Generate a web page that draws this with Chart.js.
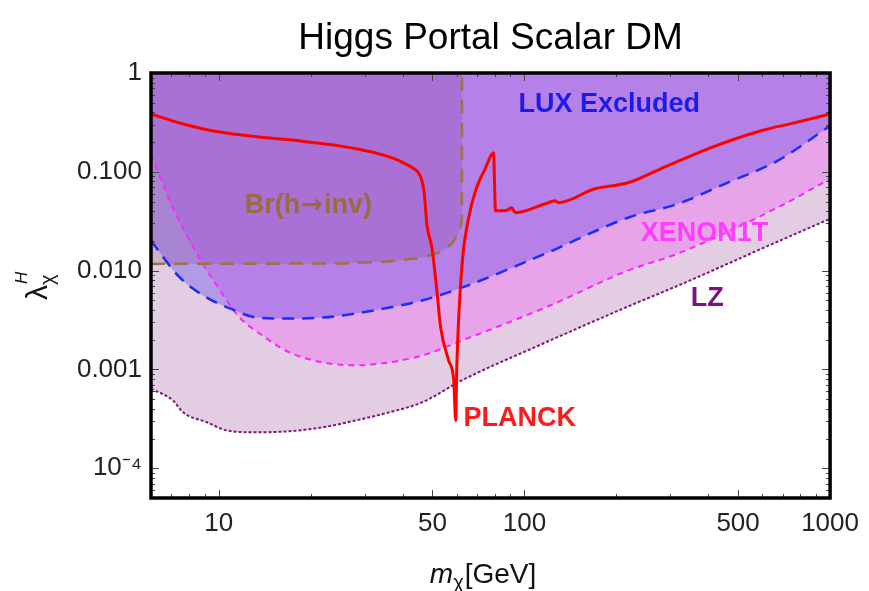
<!DOCTYPE html>
<html>
<head>
<meta charset="utf-8">
<title>Higgs Portal Scalar DM</title>
<script src="https://cdn.jsdelivr.net/npm/chart.js@4.4.0/dist/chart.umd.min.js"></script>
<style>
  html, body { margin: 0; padding: 0; background: #fff; }
</style>
</head>
<body>
<canvas id="myChart" width="869" height="591"></canvas>
<script>
// curvas (masa en GeV, acoplamiento lambda)
const planckMass = [6, 7, 8.05, 9.5, 11.7, 14, 17, 20.5, 24.8, 29, 33.4, 37.5, 40.9, 43.3, 45.2, 46.9, 48, 49.8, 51.7, 53.2, 56.5, 58.7, 59.6, 60.0, 62.4, 65.7, 69.2, 74.6, 79.2, 80.4, 86.7, 90.7, 93.5, 117, 126, 129, 170, 218, 279, 406, 591, 763, 1000];
const planckLambda = [0.385, 0.33, 0.292, 0.26, 0.237, 0.222, 0.211, 0.197, 0.183, 0.168, 0.152, 0.136, 0.120, 0.108, 0.0955, 0.0643, 0.0285, 0.0171, 0.00628, 0.00265, 0.00123, 0.000775, 0.000305, 0.000912, 0.0107, 0.0343, 0.0643, 0.1096, 0.1556, 0.0404, 0.0404, 0.0433, 0.0386, 0.0475, 0.0509, 0.0487, 0.0673, 0.0774, 0.107, 0.175, 0.259, 0.313, 0.385];

const luxMass = [6, 7.46, 9.14, 11.1, 13.3, 17, 21.8, 28.1, 36.1, 46.2, 62.4, 117, 218, 318, 461, 672, 1000];
const luxLambda = [0.0201, 0.00849, 0.00533, 0.00404, 0.00335, 0.00327, 0.00335, 0.00368, 0.00423, 0.00498, 0.00673, 0.01486, 0.0343, 0.0475, 0.0774, 0.129, 0.292];

const xenonMass = [6, 7.08, 8.47, 10.1, 11.7, 13.6, 17, 21.8, 28.1, 36.1, 46.2, 62.4, 117, 218, 318, 672, 1000];
const xenonLambda = [0.15, 0.0433, 0.0149, 0.00628, 0.00335, 0.00231, 0.00149, 0.00118, 0.0011, 0.00118, 0.00138, 0.00196, 0.00423, 0.0100, 0.0149, 0.0433, 0.085];

const lzMass = [6, 7.08, 7.64, 9.14, 10.6, 13.3, 17, 21.8, 28.1, 36.1, 46.2, 62.4, 117, 218, 318, 672, 1000];
const lzLambda = [0.00064, 0.000486, 0.000368, 0.000292, 0.000242, 0.000231, 0.000237, 0.000259, 0.000305, 0.000368, 0.000464, 0.000775, 0.00187, 0.00433, 0.00705, 0.0196, 0.0335];

const brMass = [6, 25, 36, 46, 52.5, 57.8, 61, 62.4, 62.5];
const brLambda = [0.0117, 0.0118, 0.0124, 0.0135, 0.0152, 0.0187, 0.024, 0.032, 1];

// ticks
const xMajorTicks = [10, 50, 100, 500, 1000];
const xTickLabels = ['10', '50', '100', '500', '1000'];
const xMinorTicks = [7, 8, 9, 20, 30, 40, 60, 70, 80, 90, 200, 300, 400, 600, 700, 800, 900];
const yMajorTicks = [0.0001, 0.001, 0.01, 0.1, 1];
const yTickLabels = ['10\u207B\u2074', '0.001', '0.010', '0.100', '1'];
const yMinorTicks = [6e-5, 7e-5, 8e-5, 9e-5, 2e-4, 3e-4, 4e-4, 5e-4, 6e-4, 7e-4, 8e-4, 9e-4,
  0.002, 0.003, 0.004, 0.005, 0.006, 0.007, 0.008, 0.009,
  0.02, 0.03, 0.04, 0.05, 0.06, 0.07, 0.08, 0.09,
  0.2, 0.3, 0.4, 0.5, 0.6, 0.7, 0.8, 0.9];

// etiquetas dentro del grafico: texto, masa, lambda, color
const regionLabels = ['LUX Excluded', 'Br(h\u2192inv)', 'XENON1T', 'LZ', 'PLANCK'];
const regionLabelMass = [95.6, 12.15, 240, 350, 63.2];
const regionLabelLambda = [0.475, 0.0454, 0.0237, 0.00521, 0.00032];
const regionLabelColors = ['#1c1ce8', '#9a6a40', '#ff3cff', '#7c137c', '#ff1a1a'];

Chart.defaults.font.family = "'Liberation Sans', Arial, Helvetica, sans-serif";

function toPoints(xs, ys) {
    return xs.map((x, i) => ({ x: x, y: ys[i] }));
}

const plotArea = { left: 151, right: 832, top: 73, bottom: 498 };

// dibuja texto; la flecha va con DejaVu porque en Liberation queda muy chica
function drawLabel(ctx, text, x, y) {
    const parts = text.split('\u2192');
    let px = x;
    parts.forEach((p, i) => {
        ctx.font = "bold 27px 'Liberation Sans', Arial, sans-serif";
        ctx.fillText(p, px, y);
        px += ctx.measureText(p).width;
        if (i < parts.length - 1) {
            ctx.font = "bold 26px 'DejaVu Sans', sans-serif";
            ctx.fillText('\u2192', px + 1, y + 1);
            px += ctx.measureText('\u2192').width + 2;
        }
    });
}

const textPlugin = {
    id: 'textos',
    afterDraw(chart) {
        const ctx = chart.ctx;
        const a = chart.chartArea;
        const sx = chart.scales.x;
        const sy = chart.scales.y;
        ctx.save();

        // ticks menores y mayores hacia dentro
        ctx.strokeStyle = '#444';
        ctx.lineWidth = 1;
        function tick(x1, y1, x2, y2) {
            ctx.beginPath(); ctx.moveTo(x1, y1); ctx.lineTo(x2, y2); ctx.stroke();
        }
        xMajorTicks.forEach(v => {
            const px = Math.round(sx.getPixelForValue(v)) + 0.5;
            tick(px, a.bottom, px, a.bottom - 8);
            tick(px, a.top, px, a.top + 8);
        });
        xMinorTicks.forEach(v => {
            const px = Math.round(sx.getPixelForValue(v)) + 0.5;
            tick(px, a.bottom, px, a.bottom - 4);
            tick(px, a.top, px, a.top + 4);
        });
        yMajorTicks.forEach(v => {
            const py = Math.round(sy.getPixelForValue(v)) + 0.5;
            tick(a.left, py, a.left + 8, py);
            tick(a.right, py, a.right - 8, py);
        });
        yMinorTicks.forEach(v => {
            const py = Math.round(sy.getPixelForValue(v)) + 0.5;
            tick(a.left, py, a.left + 4, py);
            tick(a.right, py, a.right - 4, py);
        });

        // marco
        ctx.strokeStyle = '#000';
        ctx.lineWidth = 3.5;
        ctx.strokeRect(a.left, a.top, a.right - a.left, a.bottom - a.top);

        // titulo
        ctx.fillStyle = '#000';
        ctx.font = "37px 'Liberation Sans', Arial, sans-serif";
        ctx.textAlign = 'center';
        ctx.textBaseline = 'alphabetic';
        ctx.fillText('Higgs Portal Scalar DM', (a.left + a.right) / 2, 49);

        // etiquetas de regiones
        ctx.textAlign = 'left';
        ctx.textBaseline = 'middle';
        regionLabels.forEach((t, i) => {
            ctx.fillStyle = regionLabelColors[i];
            drawLabel(ctx, t, sx.getPixelForValue(regionLabelMass[i]), sy.getPixelForValue(regionLabelLambda[i]));
        });

        // titulo eje x: m_chi [GeV]
        ctx.fillStyle = '#111';
        ctx.textBaseline = 'alphabetic';
        const fMain = "28px 'Liberation Sans', Arial, sans-serif";
        const fItal = "italic 28px 'Liberation Sans', Arial, sans-serif";
        const fSub = "20px 'Liberation Sans', Arial, sans-serif";
        ctx.font = fItal; const wM = ctx.measureText('m').width;
        ctx.font = fSub; const wC = ctx.measureText('\u03C7').width;
        ctx.font = fMain; const wG = ctx.measureText('[GeV]').width;
        let x0 = (a.left + a.right) / 2 - 8 - (wM + wC + wG) / 2;
        const yBase = 583;
        ctx.font = fItal; ctx.fillText('m', x0, yBase);
        ctx.font = fSub; ctx.fillText('\u03C7', x0 + wM, yBase + 6);
        ctx.font = fMain; ctx.fillText('[GeV]', x0 + wM + wC + 1, yBase);

        // titulo eje y: lambda_chi^H (rotado)
        ctx.translate(47, 300);
        ctx.rotate(-Math.PI / 2);
        ctx.font = "30px 'Liberation Sans', Arial, sans-serif";
        ctx.fillText('\u03BB', 0, 0);
        const wL = ctx.measureText('\u03BB').width;
        ctx.font = fSub;
        ctx.fillText('\u03C7', wL, 7);
        ctx.font = "italic 17px 'Liberation Sans', Arial, sans-serif";
        ctx.fillText('H', wL + 1, -20);

        ctx.restore();
    }
};

const config = {
    type: 'scatter',
    data: {
        datasets: [
            {
                label: 'PLANCK',
                data: toPoints(planckMass, planckLambda),
                showLine: true,
                borderColor: '#ff0000',
                borderWidth: 3,
                pointRadius: 0,
                cubicInterpolationMode: 'monotone',
                fill: false
            },
            {
                label: 'Br(h->inv)',
                data: toPoints(brMass, brLambda),
                showLine: true,
                borderColor: '#a0723f',
                borderWidth: 2.5,
                borderDash: [14, 9],
                backgroundColor: 'rgba(115, 40, 130, 0.18)',
                pointRadius: 0,
                fill: 'end'
            },
            {
                label: 'LUX',
                data: toPoints(luxMass, luxLambda),
                showLine: true,
                borderColor: '#1a2cff',
                borderWidth: 2.5,
                borderDash: [12, 8],
                backgroundColor: 'rgba(104, 78, 235, 0.4)',
                pointRadius: 0,
                cubicInterpolationMode: 'monotone',
                fill: 'end'
            },
            {
                label: 'XENON1T',
                data: toPoints(xenonMass, xenonLambda),
                showLine: true,
                borderColor: '#ff22ff',
                borderWidth: 2,
                borderDash: [6, 5],
                backgroundColor: 'rgba(255, 0, 255, 0.2)',
                pointRadius: 0,
                cubicInterpolationMode: 'monotone',
                fill: 'end'
            },
            {
                label: 'LZ',
                data: toPoints(lzMass, lzLambda),
                showLine: true,
                borderColor: '#7a1a7a',
                borderWidth: 2,
                borderDash: [3, 2],
                backgroundColor: '#e3cde3',
                pointRadius: 0,
                cubicInterpolationMode: 'monotone',
                fill: 'end'
            }
        ]
    },
    options: {
        responsive: false,
        animation: false,
        devicePixelRatio: 1,
        layout: {
            padding: { left: 0, right: 869 - plotArea.right, top: plotArea.top, bottom: 0 }
        },
        plugins: {
            legend: { display: false },
            title: { display: false },
            tooltip: { enabled: false },
            filler: { drawTime: 'beforeDatasetsDraw' }
        },
        scales: {
            x: {
                type: 'logarithmic',
                min: 6,
                max: 1000,
                grid: { display: false, drawTicks: false },
                border: { display: false },
                afterBuildTicks: (scale) => { scale.ticks = xMajorTicks.map(v => ({ value: v })); },
                afterFit: (scale) => { scale.height = 591 - plotArea.bottom; },
                ticks: {
                    autoSkip: false,
                    maxRotation: 0,
                    padding: 10,
                    color: '#222',
                    font: { size: 26 },
                    callback: (value, index) => xTickLabels[index]
                }
            },
            y: {
                type: 'logarithmic',
                min: 5e-5,
                max: 1,
                grid: { display: false, drawTicks: false },
                border: { display: false },
                afterBuildTicks: (scale) => { scale.ticks = yMajorTicks.map(v => ({ value: v })); },
                afterFit: (scale) => { scale.width = plotArea.left; },
                ticks: {
                    autoSkip: false,
                    padding: 9,
                    color: '#222',
                    font: { size: 26 },
                    callback: (value, index) => yTickLabels[index]
                }
            }
        }
    },
    plugins: [textPlugin]
};

const chart = new Chart(document.getElementById('myChart'), config);
</script>
</body>
</html>
